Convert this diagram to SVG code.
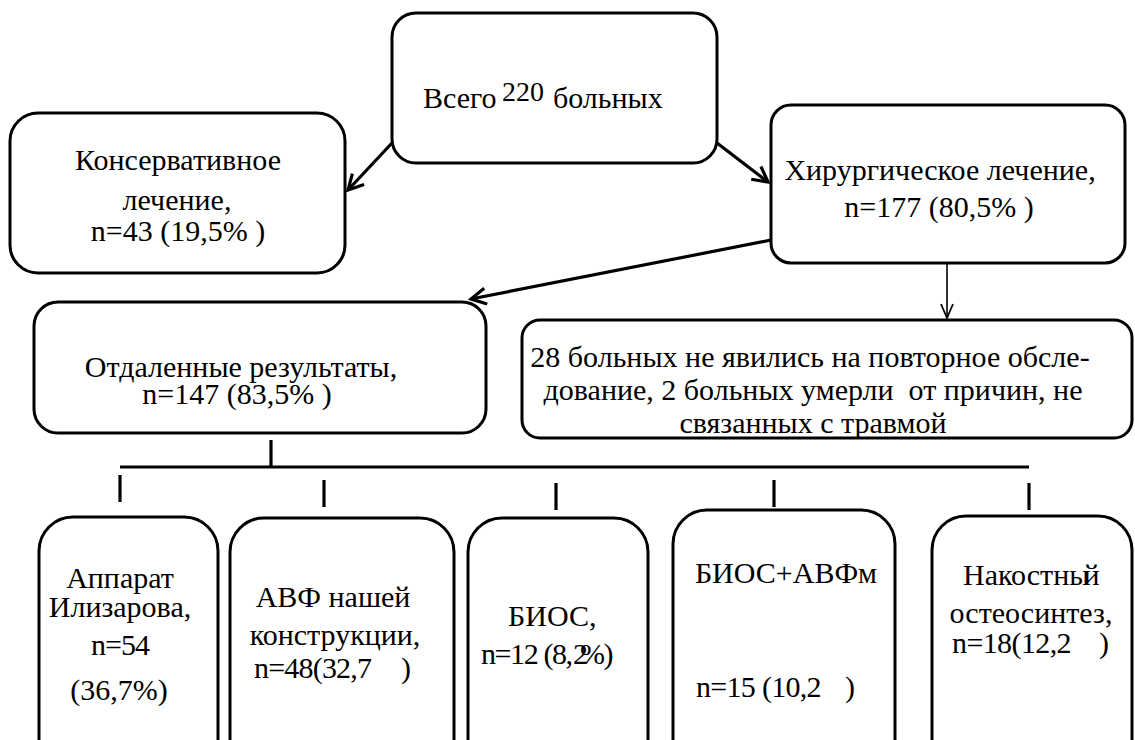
<svg xmlns="http://www.w3.org/2000/svg" width="1135" height="740" viewBox="0 0 1135 740">
<style>
.box{fill:#fff;stroke:#000;stroke-width:3}
.t{font-family:'Liberation Serif','Times New Roman',serif;font-size:30px;fill:#000}
.m{text-anchor:middle}
.c{fill:none;stroke:#000;stroke-width:3.2}
.thin{fill:none;stroke:#000;stroke-width:1.6}
</style>
<defs>
<marker id="ah" markerUnits="userSpaceOnUse" viewBox="-20 -12 24 24" refX="0" refY="0" markerWidth="24" markerHeight="24" orient="auto">
<path d="M-15,-8 L0,0 L-15,8" fill="none" stroke="#000" stroke-width="3.2"/>
</marker>
<marker id="ahs" markerUnits="userSpaceOnUse" viewBox="-20 -12 24 24" refX="0" refY="0" markerWidth="24" markerHeight="24" orient="auto">
<path d="M-14,-6 L0,0 L-14,6" fill="none" stroke="#000" stroke-width="1.8"/>
</marker>
</defs>
<rect width="1135" height="740" fill="#fff"/>

<g id="connectors">
<line class="c" x1="392" y1="143" x2="348" y2="190" marker-end="url(#ah)"/>
<line class="c" x1="717" y1="143" x2="768" y2="182" marker-end="url(#ah)"/>
<line class="c" x1="771" y1="240" x2="471" y2="299" marker-end="url(#ah)"/>
<line class="thin" x1="947" y1="263" x2="947" y2="318" marker-end="url(#ahs)"/>
<line class="c" x1="271" y1="440" x2="271" y2="467"/>
<line class="c" x1="120" y1="467" x2="1029" y2="467"/>
<line class="c" x1="120" y1="475" x2="120" y2="502"/>
<line class="c" x1="324" y1="480" x2="324" y2="507"/>
<line class="c" x1="556" y1="483" x2="556" y2="510"/>
<line class="c" x1="774" y1="480" x2="774" y2="507"/>
<line class="c" x1="1029" y1="483" x2="1029" y2="510"/>
</g>

<g id="total">
<rect class="box" x="392" y="13" width="325" height="150" rx="24"/>
<text class="t" x="423" y="108">Всего <tspan x="502" y="101" font-size="28">220</tspan><tspan x="553" y="108">больных</tspan></text>
</g>

<g id="conservative">
<rect class="box" x="10" y="113" width="335" height="160" rx="28"/>
<text class="t m" x="178" y="170">Консервативное</text>
<text class="t m" x="177" y="210">лечение,</text>
<text class="t m" x="178" y="241">n=43 (19,5% )</text>
</g>

<g id="surgical">
<rect class="box" x="771" y="105" width="354" height="158" rx="20"/>
<text class="t m" x="940" y="180">Хирургическое лечение,</text>
<text class="t m" x="939" y="217">n=177 (80,5% )</text>
</g>

<g id="remote">
<rect class="box" x="34" y="302" width="452" height="131" rx="24"/>
<text class="t m" x="241" y="377">Отдаленные результаты,</text>
<text class="t m" x="237" y="404">n=147 (83,5% )</text>
</g>

<g id="dropped">
<rect class="box" x="522" y="320" width="610" height="118" rx="18"/>
<text class="t m" x="810" y="367">28 больных не явились на повторное обсле-</text>
<text class="t m" x="813" y="400" style="white-space:pre">дование, 2 больных умерли  от причин, не</text>
<text class="t m" x="813" y="433">связанных с травмой</text>
</g>

<g id="ilizarov">
<rect class="box" x="39" y="517" width="179" height="260" rx="34"/>
<text class="t m" x="120" y="588">Аппарат</text>
<text class="t m" x="120" y="617">Илизарова,</text>
<text class="t m" x="120" y="655" letter-spacing="-1">n=54</text>
<text class="t m" x="119" y="700">(36,7%)</text>
</g>

<g id="avf">
<rect class="box" x="230" y="518" width="224" height="260" rx="34"/>
<text class="t m" x="333" y="607">АВФ нашей</text>
<text class="t m" x="335" y="645">конструкции,</text>
<text class="t" x="254" y="678" letter-spacing="-0.8">n=48(32,7<tspan x="401">)</tspan></text>
</g>

<g id="bios">
<rect class="box" x="468" y="518" width="180" height="260" rx="34"/>
<text class="t" x="508" y="626">БИОС,</text>
<text class="t" x="481" y="664" letter-spacing="-1.4">n=12 (8,<tspan x="573">2</tspan><tspan x="580">%)</tspan></text>
</g>

<g id="bios-avf">
<rect class="box" x="673" y="510" width="222" height="268" rx="34"/>
<text class="t m" x="786" y="583">БИОС+АВФм</text>
<text class="t" x="696" y="697" letter-spacing="-0.7">n=15 (10,2<tspan x="845">)</tspan></text>
</g>

<g id="plate">
<rect class="box" x="932" y="516" width="200" height="262" rx="34"/>
<text class="t" x="963" y="585">Накостны<tspan dx="-6">й</tspan></text>
<text class="t m" x="1031" y="623">остеосинтез,</text>
<text class="t" x="952" y="653" letter-spacing="-0.6">n=18(12,2<tspan x="1099">)</tspan></text>
</g>
</svg>
